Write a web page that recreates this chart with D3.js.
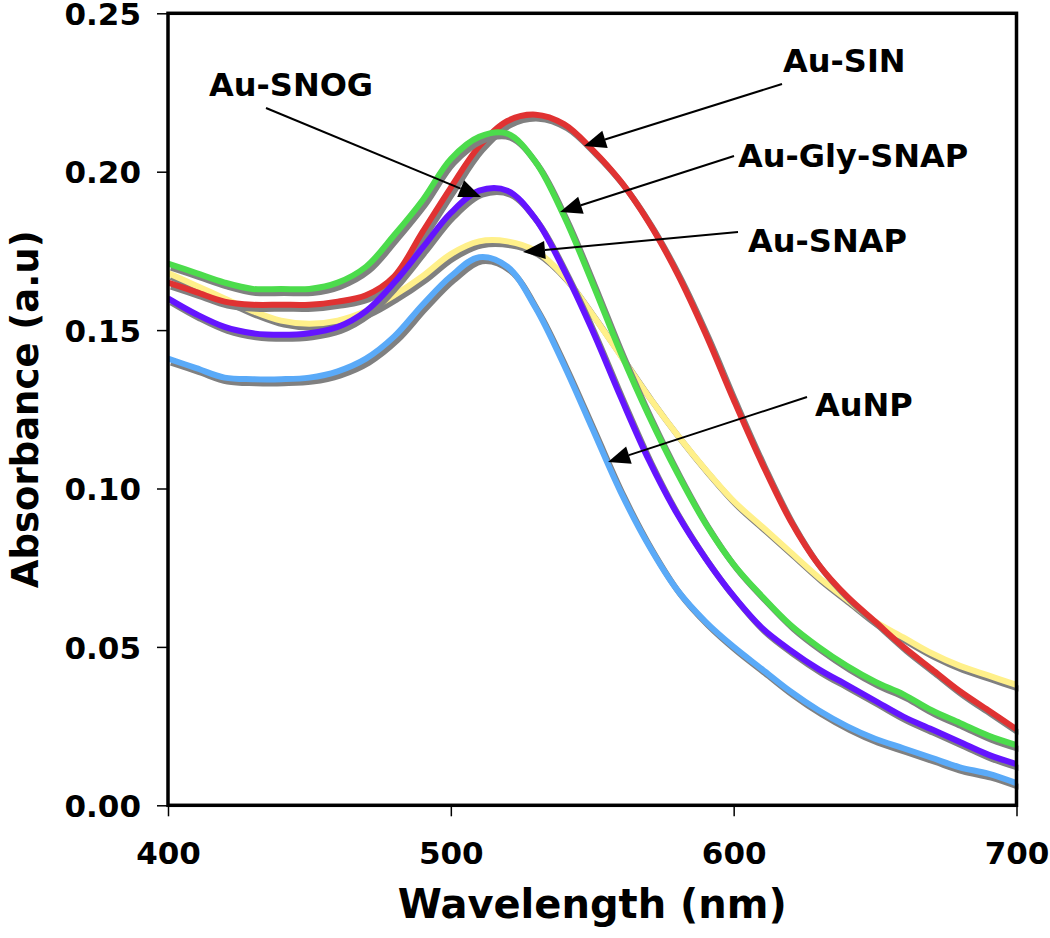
<!DOCTYPE html>
<html><head><meta charset="utf-8">
<script src="https://cdn.jsdelivr.net/npm/d3@7"></script>
<style>body{margin:0;background:#fff}svg{display:block}</style>
</head><body><svg id="c" width="1050" height="938"></svg>
<script>
const wavelengths = [400,410,420,430,440,450,460,470,480,490,500,510,520,530,540,550,560,570,580,590,600,610,620,630,640,650,660,670,680,690,700];
const auSIN     = [0.165,0.162,0.159,0.158,0.158,0.158,0.159,0.161,0.167,0.181,0.195,0.208,0.216,0.218,0.215,0.207,0.197,0.184,0.168,0.149,0.128,0.108,0.090,0.076,0.066,0.058,0.050,0.043,0.036,0.030,0.024];
const auGlySNAP = [0.171,0.168,0.165,0.163,0.163,0.163,0.165,0.170,0.180,0.191,0.204,0.211,0.212,0.203,0.186,0.165,0.143,0.123,0.105,0.089,0.076,0.066,0.057,0.050,0.044,0.039,0.035,0.030,0.026,0.022,0.019];
const auSNOG    = [0.160,0.155,0.151,0.149,0.1485,0.149,0.151,0.156,0.165,0.176,0.187,0.194,0.194,0.185,0.169,0.150,0.129,0.109,0.092,0.078,0.066,0.056,0.049,0.043,0.038,0.033,0.028,0.024,0.020,0.016,0.013];
const auSNAP    = [0.168,0.164,0.160,0.156,0.153,0.152,0.153,0.156,0.161,0.167,0.174,0.178,0.178,0.175,0.167,0.155,0.142,0.129,0.117,0.106,0.096,0.088,0.080,0.072,0.065,0.058,0.053,0.048,0.044,0.041,0.038];
const auNP      = [0.141,0.138,0.135,0.1345,0.1345,0.135,0.137,0.141,0.148,0.158,0.167,0.173,0.170,0.157,0.139,0.119,0.099,0.082,0.068,0.058,0.050,0.043,0.036,0.030,0.025,0.021,0.018,0.015,0.012,0.010,0.007];
const seriesNames  = ["Au-SNAP","Au-SIN","Au-Gly-SNAP","Au-SNOG","AuNP"];
const seriesValues = [auSNAP, auSIN, auGlySNAP, auSNOG, auNP];
const seriesColors = ["#fff08a","#e03232","#4cdc4c","#6414ff","#5aaaf8"];
const xTicks = [400,500,600,700];
const yTicks = [0.00,0.05,0.10,0.15,0.20,0.25];
// annotations: label, text x, text baseline y, line start, arrow tip
const annotations = [
  {label:"Au-SIN",      tx:783, ty:72,  x1:782, y1:84,  x2:584, y2:146},
  {label:"Au-SNOG",     tx:209, ty:96,  x1:266, y1:108, x2:481, y2:197},
  {label:"Au-Gly-SNAP", tx:738, ty:167, x1:734, y1:156, x2:560, y2:212},
  {label:"Au-SNAP",     tx:748, ty:252, x1:738, y1:232, x2:523, y2:252},
  {label:"AuNP",        tx:815, ty:416, x1:807, y1:397, x2:608, y2:462}
];

const svg = d3.select("#c");
const L=168, R=1016.5, T=13.3, B=805.3;
const x = d3.scaleLinear().domain([400,700]).range([L,R]);
const y = d3.scaleLinear().domain([0,0.25]).range([B,T]);
const font = "'DejaVu Sans', Verdana, sans-serif";

svg.append("defs").append("clipPath").attr("id","pc")
  .append("rect").attr("x",L).attr("y",T).attr("width",R-L+2).attr("height",B-T);

const line = d3.line().x((d,i)=>x(wavelengths[i])).y(d=>y(d)).curve(d3.curveCatmullRom.alpha(0.5));
const g = svg.append("g").attr("clip-path","url(#pc)");
seriesValues.forEach((vals,k)=>{
  g.append("path").attr("d",line(vals)).attr("fill","none").attr("stroke","#808080")
    .attr("stroke-width",6).attr("transform","translate(3,4)");
  g.append("path").attr("d",line(vals)).attr("fill","none").attr("stroke",seriesColors[k])
    .attr("stroke-width",6);
});

// frame
svg.append("rect").attr("x",L).attr("y",T).attr("width",R-L).attr("height",B-T)
  .attr("fill","none").attr("stroke","#000").attr("stroke-width",3.5);

// axes
const yAxis = d3.axisLeft(y).tickValues(yTicks).tickFormat(d3.format(".2f")).tickSize(11).tickPadding(16);
const ya = svg.append("g").attr("transform",`translate(${L},0)`).call(yAxis);
const xAxis = d3.axisBottom(x).tickValues(xTicks).tickFormat(d3.format("d")).tickSize(11).tickPadding(26);
const xa = svg.append("g").attr("transform",`translate(0,${B})`).call(xAxis);
[ya,xa].forEach(a=>{
  a.select(".domain").remove();
  a.selectAll(".tick line").attr("stroke","#000").attr("stroke-width",1.5);
  a.selectAll(".tick text").attr("fill","#000").style("font-family",font).style("font-weight","bold").style("font-size","31px");
});
ya.selectAll(".tick text").attr("dy","0.36em");

svg.append("text").attr("x",(L+R)/2).attr("y",918).attr("text-anchor","middle")
  .style("font-family",font).style("font-weight","bold").style("font-size","40px").text("Wavelength (nm)");
svg.append("text").attr("transform",`translate(38,${(T+B)/2}) rotate(-90)`).attr("text-anchor","middle")
  .style("font-family",font).style("font-weight","bold").style("font-size","37px").text("Absorbance (a.u)");

// annotations
annotations.forEach(a=>{
  const ang = Math.atan2(a.y2-a.y1, a.x2-a.x1);
  const hl = 22, hw = 9;
  const bx = a.x2 - hl*Math.cos(ang), by = a.y2 - hl*Math.sin(ang);
  svg.append("line").attr("x1",a.x1).attr("y1",a.y1).attr("x2",bx).attr("y2",by)
    .attr("stroke","#000").attr("stroke-width",2);
  const px = -Math.sin(ang), py = Math.cos(ang);
  svg.append("path").attr("d",`M${a.x2},${a.y2}L${bx+hw*px},${by+hw*py}L${bx-hw*px},${by-hw*py}Z`).attr("fill","#000");
  svg.append("text").attr("x",a.tx).attr("y",a.ty)
    .style("font-family",font).style("font-weight","bold").style("font-size","32px").text(a.label);
});
</script></body></html>
